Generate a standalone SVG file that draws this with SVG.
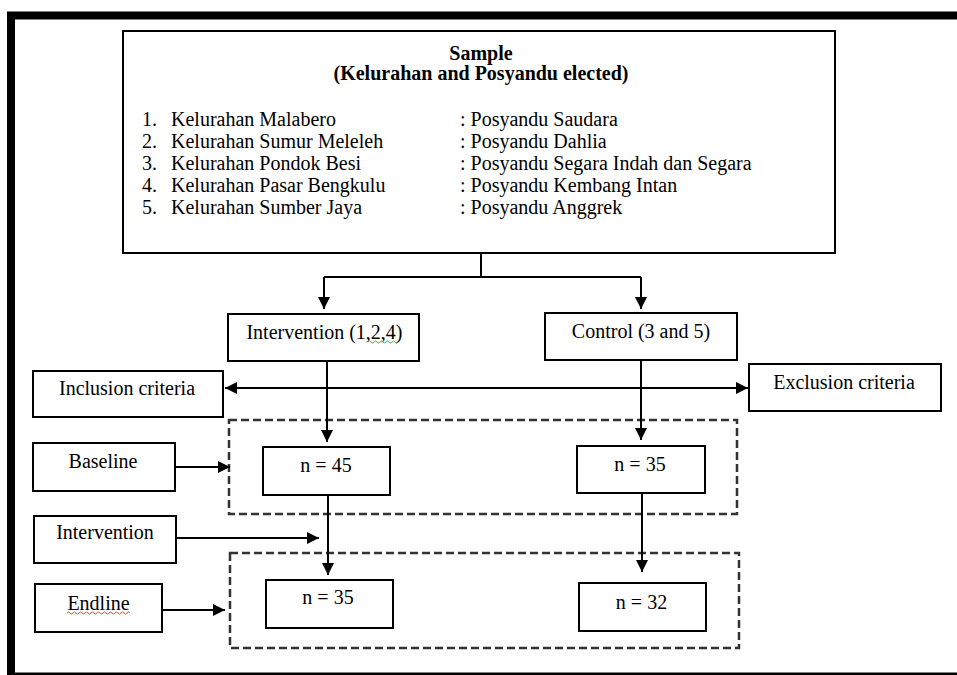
<svg xmlns="http://www.w3.org/2000/svg" width="957" height="675" viewBox="0 0 957 675">
<style>
text{font-family:"Liberation Serif","Times New Roman",serif;font-size:20px;fill:#000}
.c{text-anchor:middle}
.b{font-weight:bold}
.box{fill:#fff;stroke:#000;stroke-width:2}
.dash{fill:none;stroke:#333;stroke-width:2.5;stroke-dasharray:8 4}
.ln{fill:none;stroke:#000;stroke-width:2}
</style>
<defs>
<marker id="ah" markerWidth="12" markerHeight="12" refX="12" refY="6" orient="auto" markerUnits="userSpaceOnUse">
<path d="M0,0 L12,6 L0,12 Z" fill="#000"/>
</marker>
<marker id="ahs" markerWidth="12" markerHeight="12" refX="0" refY="6" orient="auto" markerUnits="userSpaceOnUse">
<path d="M12,0 L0,6 L12,12 Z" fill="#000"/>
</marker>
</defs>
<rect width="957" height="675" fill="#fff"/>
<rect x="11" y="15.5" width="1000" height="661" fill="none" stroke="#000" stroke-width="8"/>

<g id="dashed-groups">
<rect class="dash" x="229" y="420" width="508" height="94"/>
<rect class="dash" x="230" y="553" width="509" height="95"/>
</g>

<g id="connectors">
<polyline class="ln" points="481,253 481,277"/>
<polyline class="ln" points="324,277 641,277"/>
<line class="ln" x1="324" y1="277" x2="324" y2="309" marker-end="url(#ah)"/>
<line class="ln" x1="641" y1="277" x2="641" y2="309" marker-end="url(#ah)"/>
<line class="ln" x1="327" y1="362" x2="327" y2="442" marker-end="url(#ah)"/>
<line class="ln" x1="641" y1="361" x2="641" y2="440" marker-end="url(#ah)"/>
<line class="ln" x1="225" y1="388" x2="748" y2="388" marker-start="url(#ahs)" marker-end="url(#ah)"/>
<line class="ln" x1="175" y1="467" x2="230" y2="467" marker-end="url(#ah)"/>
<line class="ln" x1="328" y1="496" x2="328" y2="575" marker-end="url(#ah)"/>
<line class="ln" x1="176" y1="538" x2="319" y2="538" marker-end="url(#ah)"/>
<line class="ln" x1="642" y1="494" x2="642" y2="572" marker-end="url(#ah)"/>
<line class="ln" x1="162" y1="610" x2="225" y2="610" stroke-width="2.5" marker-end="url(#ah)"/>
</g>

<g id="sample">
<rect class="box" x="123" y="31" width="712" height="222"/>
<text class="c b" x="481" y="60">Sample</text>
<text class="c b" x="481" y="80">(Kelurahan and Posyandu elected)</text>
<text x="142" y="125.5">1.</text><text x="171" y="125.5">Kelurahan Malabero</text><text x="460" y="125.5">: Posyandu Saudara</text>
<text x="142" y="147.5">2.</text><text x="171" y="147.5">Kelurahan Sumur Meleleh</text><text x="460" y="147.5">: Posyandu Dahlia</text>
<text x="142" y="169.5">3.</text><text x="171" y="169.5">Kelurahan Pondok Besi</text><text x="460" y="169.5">: Posyandu Segara Indah dan Segara</text>
<text x="142" y="191.5">4.</text><text x="171" y="191.5">Kelurahan Pasar Bengkulu</text><text x="460" y="191.5">: Posyandu Kembang Intan</text>
<text x="142" y="213.5">5.</text><text x="171" y="213.5">Kelurahan Sumber Jaya</text><text x="460" y="213.5">: Posyandu Anggrek</text>
</g>

<g id="intervention-group">
<rect class="box" x="228" y="314" width="191" height="47"/>
<text class="c" x="324.5" y="339">Intervention (1,2,4)</text>
<path d="M368,342 q1.5,-2 3,0 t3,0 t3,0 t3,0 t3,0 t3,0 t3,0 t3,0 t3,0 t3,0" fill="none" stroke="#2a9a2a" stroke-width="0.8"/>
</g>

<g id="control-group">
<rect class="box" x="545" y="313" width="192" height="47"/>
<text class="c" x="641" y="338">Control (3 and 5)</text>
</g>

<g id="inclusion">
<rect class="box" x="33" y="371" width="190" height="46"/>
<text class="c" x="127" y="395">Inclusion criteria</text>
</g>

<g id="exclusion">
<rect class="box" x="749" y="364" width="192" height="47"/>
<text class="c" x="844" y="389">Exclusion criteria</text>
</g>

<g id="baseline">
<rect class="box" x="33" y="443" width="142" height="48"/>
<text class="c" x="103" y="468">Baseline</text>
</g>

<g id="n45">
<rect class="box" x="263" y="447" width="127" height="48"/>
<text class="c" x="326" y="472">n = 45</text>
</g>

<g id="n35-control">
<rect class="box" x="577" y="446" width="128" height="47"/>
<text class="c" x="640" y="471">n = 35</text>
</g>

<g id="intervention-stage">
<rect class="box" x="34" y="516" width="142" height="47"/>
<text class="c" x="105" y="539">Intervention</text>
</g>

<g id="n35-intervention">
<rect class="box" x="266" y="580" width="127" height="48"/>
<text class="c" x="328" y="604">n = 35</text>
</g>

<g id="endline">
<rect class="box" x="35" y="584" width="127" height="48"/>
<text class="c" x="98.5" y="610">Endline</text>
<path d="M67,613 q1.5,-2 3,0 t3,0 t3,0 t3,0 t3,0 t3,0 t3,0 t3,0 t3,0 t3,0 t3,0 t3,0 t3,0 t3,0 t3,0 t3,0 t3,0 t3,0 t3,0 t3,0 t3,0" fill="none" stroke="#d02020" stroke-width="0.8"/>
</g>

<g id="n32">
<rect class="box" x="579" y="583" width="127" height="48"/>
<text class="c" x="641.5" y="609">n = 32</text>
</g>
</svg>
